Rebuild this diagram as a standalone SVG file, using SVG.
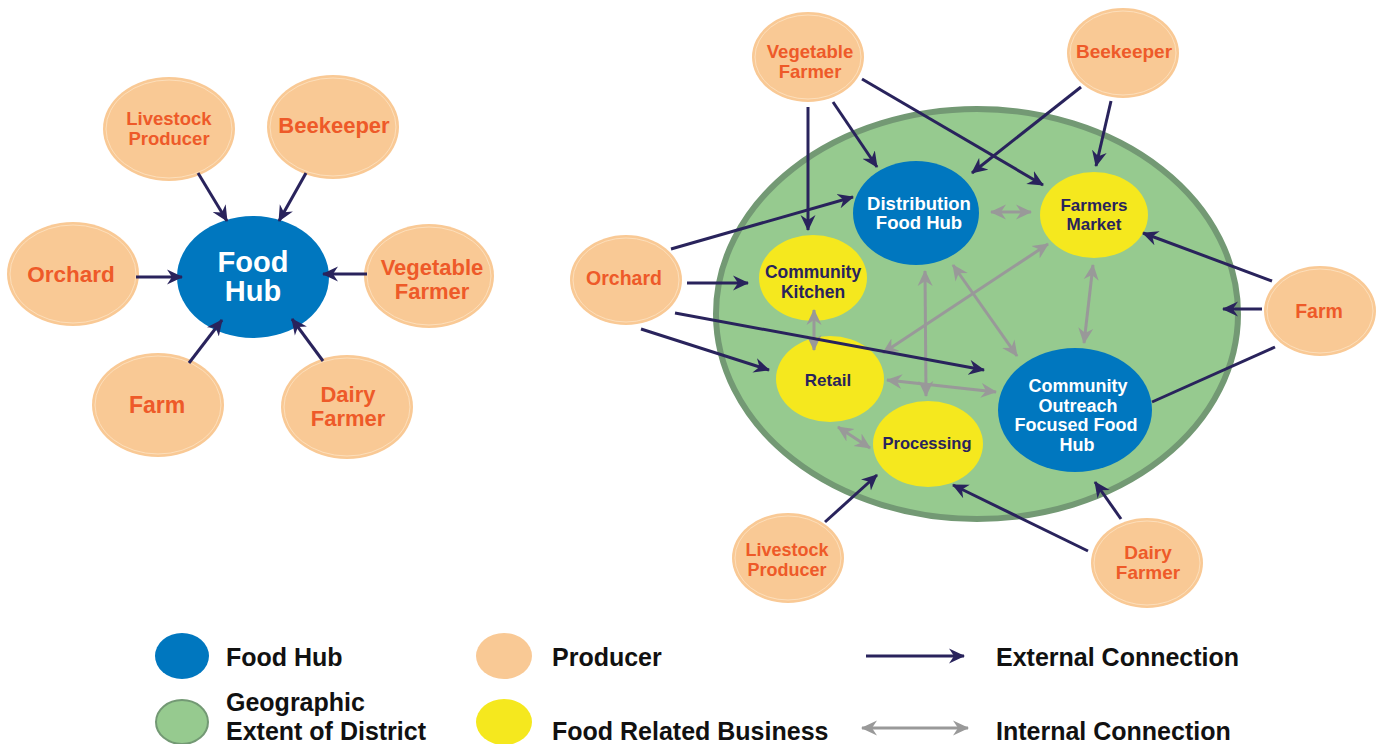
<svg xmlns="http://www.w3.org/2000/svg" width="1380" height="744" viewBox="0 0 1380 744">
<defs>
<marker id="ext" viewBox="0 0 16 16" markerWidth="16" markerHeight="16" refX="15" refY="8" orient="auto" markerUnits="userSpaceOnUse">
<path d="M0,0.5 L16,8 L0,15.5 L5,8 z" fill="#29235c"/>
</marker>
<marker id="int" viewBox="0 0 16 16" markerWidth="16" markerHeight="16" refX="15" refY="8" orient="auto-start-reverse" markerUnits="userSpaceOnUse">
<path d="M0,0.5 L16,8 L0,15.5 L5,8 z" fill="#999999"/>
</marker>
</defs>
<style>
.prod{fill:#f9c995;}
.prodin{fill:none;stroke:#fde3c4;stroke-width:0.8;}
.hub{fill:#0077bf;}
.biz{fill:#f5e81e;}
.ptxt{font-family:"Liberation Sans",Arial,sans-serif;font-weight:bold;fill:#ee5a29;text-anchor:middle;}
.htxt{font-family:"Liberation Sans",Arial,sans-serif;font-weight:bold;fill:#ffffff;text-anchor:middle;}
.btxt{font-family:"Liberation Sans",Arial,sans-serif;font-weight:bold;fill:#29235c;text-anchor:middle;}
.ltxt{font-family:"Liberation Sans",Arial,sans-serif;font-weight:bold;fill:#111111;font-size:25px;}
.e{stroke:#29235c;stroke-width:3;fill:none;marker-end:url(#ext);}
.en{stroke:#29235c;stroke-width:3;fill:none;}
.i{stroke:#999999;stroke-width:3;fill:none;marker-start:url(#int);marker-end:url(#int);}
</style>

<!-- district -->
<g id="district">
<ellipse cx="977" cy="314" rx="261" ry="205" fill="#96ca8f" stroke="#739974" stroke-width="6"/>
</g>

<!-- LEFT DIAGRAM -->
<g id="l-hub"><ellipse class="hub" cx="253" cy="277" rx="76" ry="61"/>
<text class="htxt" x="253" y="272" font-size="29">Food</text>
<text class="htxt" x="253" y="301" font-size="29">Hub</text></g>
<g id="l-livestock"><ellipse class="prod" cx="169" cy="129" rx="66" ry="52"/><ellipse class="prodin" cx="169" cy="129" rx="63" ry="49"/>
<text class="ptxt" x="169" y="125" font-size="18.5">Livestock</text>
<text class="ptxt" x="169" y="145" font-size="18.5">Producer</text></g>
<g id="l-beekeeper"><ellipse class="prod" cx="333" cy="127" rx="66" ry="52"/><ellipse class="prodin" cx="333" cy="127" rx="63" ry="49"/>
<text class="ptxt" x="334" y="133" font-size="22">Beekeeper</text></g>
<g id="l-orchard"><ellipse class="prod" cx="73" cy="274" rx="66" ry="52"/><ellipse class="prodin" cx="73" cy="274" rx="63" ry="49"/>
<text class="ptxt" x="71" y="282" font-size="22.5">Orchard</text></g>
<g id="l-vegetable"><ellipse class="prod" cx="429" cy="276" rx="65" ry="52"/><ellipse class="prodin" cx="429" cy="276" rx="62" ry="49"/>
<text class="ptxt" x="432" y="275" font-size="22">Vegetable</text>
<text class="ptxt" x="432" y="299" font-size="22">Farmer</text></g>
<g id="l-farm"><ellipse class="prod" cx="158" cy="405" rx="66" ry="52"/><ellipse class="prodin" cx="158" cy="405" rx="63" ry="49"/>
<text class="ptxt" x="157" y="413" font-size="23">Farm</text></g>
<g id="l-dairy"><ellipse class="prod" cx="347" cy="407" rx="66" ry="52"/><ellipse class="prodin" cx="347" cy="407" rx="63" ry="49"/>
<text class="ptxt" x="348" y="402" font-size="22">Dairy</text>
<text class="ptxt" x="348" y="426" font-size="22">Farmer</text></g>

<!-- RIGHT DIAGRAM NODES -->
<g id="r-distribution"><ellipse class="hub" cx="916" cy="213" rx="63" ry="52"/>
<text class="htxt" x="919" y="210" font-size="18.5">Distribution</text>
<text class="htxt" x="919" y="229" font-size="18.5">Food Hub</text></g>
<g id="r-farmersmarket"><ellipse class="biz" cx="1094" cy="215" rx="54" ry="43"/>
<text class="btxt" x="1094" y="211" font-size="17">Farmers</text>
<text class="btxt" x="1094" y="230" font-size="17">Market</text></g>
<g id="r-kitchen"><ellipse class="biz" cx="813" cy="278" rx="54" ry="43"/>
<text class="btxt" x="813" y="278" font-size="17.5">Community</text>
<text class="btxt" x="813" y="298" font-size="17.5">Kitchen</text></g>
<g id="r-retail"><ellipse class="biz" cx="830" cy="379" rx="54" ry="43"/>
<text class="btxt" x="828" y="386" font-size="17">Retail</text></g>
<g id="r-processing"><ellipse class="biz" cx="928" cy="444" rx="55" ry="43"/>
<text class="btxt" x="927" y="449" font-size="16.5">Processing</text></g>
<g id="r-outreach"><ellipse class="hub" cx="1075" cy="410" rx="77" ry="62"/>
<text class="htxt" x="1078" y="392" font-size="18">Community</text>
<text class="htxt" x="1078" y="412" font-size="18">Outreach</text>
<text class="htxt" x="1076" y="431" font-size="18">Focused Food</text>
<text class="htxt" x="1077" y="451" font-size="18">Hub</text></g>

<g id="r-vegetable"><ellipse class="prod" cx="808" cy="57" rx="56" ry="45"/><ellipse class="prodin" cx="808" cy="57" rx="53" ry="42"/>
<text class="ptxt" x="810" y="58" font-size="18.5">Vegetable</text>
<text class="ptxt" x="810" y="78" font-size="18.5">Farmer</text></g>
<g id="r-beekeeper"><ellipse class="prod" cx="1123" cy="53" rx="56" ry="45"/><ellipse class="prodin" cx="1123" cy="53" rx="53" ry="42"/>
<text class="ptxt" x="1124" y="58" font-size="19">Beekeeper</text></g>
<g id="r-orchard"><ellipse class="prod" cx="626" cy="280" rx="56" ry="45"/><ellipse class="prodin" cx="626" cy="280" rx="53" ry="42"/>
<text class="ptxt" x="624" y="285" font-size="19.5">Orchard</text></g>
<g id="r-farm"><ellipse class="prod" cx="1320" cy="311" rx="56" ry="45"/><ellipse class="prodin" cx="1320" cy="311" rx="53" ry="42"/>
<text class="ptxt" x="1319" y="318" font-size="19.5">Farm</text></g>
<g id="r-livestock"><ellipse class="prod" cx="788" cy="558" rx="56" ry="45"/><ellipse class="prodin" cx="788" cy="558" rx="53" ry="42"/>
<text class="ptxt" x="787" y="556" font-size="18">Livestock</text>
<text class="ptxt" x="787" y="576" font-size="18">Producer</text></g>
<g id="r-dairy"><ellipse class="prod" cx="1147" cy="563" rx="56" ry="45"/><ellipse class="prodin" cx="1147" cy="563" rx="53" ry="42"/>
<text class="ptxt" x="1148" y="559" font-size="19">Dairy</text>
<text class="ptxt" x="1148" y="579" font-size="19">Farmer</text></g>

<!-- CONNECTORS -->
<g id="connectors">
<!-- left -->
<line class="e" x1="198" y1="173" x2="227" y2="221"/>
<line class="e" x1="306" y1="173" x2="279" y2="221"/>
<line class="e" x1="136" y1="277" x2="182" y2="277"/>
<line class="e" x1="367" y1="274" x2="323" y2="274"/>
<line class="e" x1="189" y1="363" x2="222" y2="320"/>
<line class="e" x1="323" y1="361" x2="292" y2="319"/>
<!-- right internal -->
<line class="i" x1="991" y1="212" x2="1031" y2="212"/>
<line class="i" x1="814" y1="310" x2="814" y2="350"/>
<line class="i" x1="1093" y1="265" x2="1084" y2="343"/>
<line class="i" x1="925" y1="271" x2="926" y2="396"/>
<line class="i" x1="953" y1="265" x2="1017" y2="356"/>
<line class="i" x1="883" y1="353" x2="1048" y2="244"/>
<line class="i" x1="887" y1="380" x2="996" y2="392"/>
<line class="i" x1="838" y1="427" x2="870" y2="448"/>
<!-- right external -->
<line class="e" x1="808" y1="107" x2="808" y2="230"/>
<line class="e" x1="833" y1="102" x2="877" y2="167"/>
<line class="e" x1="862" y1="79" x2="1043" y2="185"/>
<line class="e" x1="671" y1="249" x2="853" y2="197"/>
<line class="e" x1="687" y1="283" x2="748" y2="283"/>
<line class="e" x1="675" y1="313" x2="984" y2="370"/>
<line class="e" x1="641" y1="329" x2="769" y2="370"/>
<line class="e" x1="1081" y1="87" x2="972" y2="173"/>
<line class="e" x1="1111" y1="101" x2="1096" y2="166"/>
<line class="e" x1="1272" y1="281" x2="1143" y2="233"/>
<line class="e" x1="1262" y1="309" x2="1223" y2="309"/>
<line class="en" x1="1275" y1="347" x2="1152" y2="402"/>
<line class="e" x1="825" y1="522" x2="877" y2="475"/>
<line class="e" x1="1088" y1="551" x2="953" y2="485"/>
<line class="e" x1="1121" y1="519" x2="1095" y2="482"/>
</g>

<!-- LEGEND -->
<g id="legend">
<ellipse cx="182" cy="656" rx="27" ry="23" fill="#0077bf"/>
<text class="ltxt" x="226" y="666">Food Hub</text>
<ellipse cx="504" cy="656" rx="28" ry="23" fill="#f9c995"/>
<text class="ltxt" x="552" y="666">Producer</text>
<line class="e" x1="866" y1="656" x2="964" y2="656"/>
<text class="ltxt" x="996" y="666">External Connection</text>
<ellipse cx="182" cy="722" rx="26" ry="22" fill="#96ca8f" stroke="#739974" stroke-width="2"/>
<text class="ltxt" x="226" y="711">Geographic</text>
<text class="ltxt" x="226" y="740">Extent of District</text>
<ellipse cx="504" cy="722" rx="28" ry="23" fill="#f5e81e"/>
<text class="ltxt" x="552" y="740">Food Related Business</text>
<line class="i" x1="862" y1="728" x2="968" y2="728" stroke-width="4"/>
<text class="ltxt" x="996" y="740">Internal Connection</text>
</g>
</svg>
